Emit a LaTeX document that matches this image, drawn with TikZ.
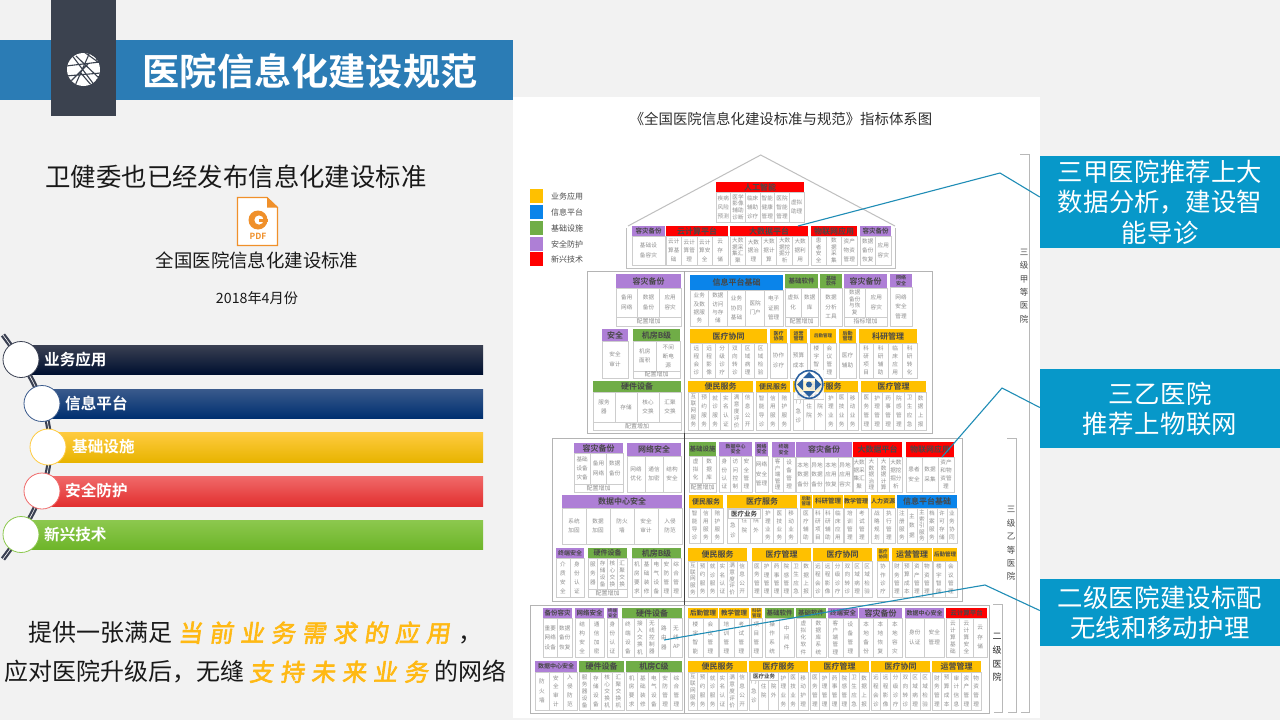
\documentclass[tikz,border=0pt]{standalone}
\usepackage{fontspec}
\setmainfont{Noto Sans CJK SC}[BoldFont={Noto Sans CJK SC Bold}]
\newfontfamily\brushfont[LetterSpace=29,FakeSlant=0.14,FakeBold=2.5]{Noto Sans CJK SC}
\XeTeXlinebreaklocale "zh"
\XeTeXlinebreakskip=0pt plus 0.5pt
\definecolor{pageb}{HTML}{F2F2F2}
\definecolor{barblue}{HTML}{2B7CB5}
\definecolor{darkb}{HTML}{3B424F}
\definecolor{callb}{HTML}{0798C9}
\definecolor{linkb}{HTML}{1F8DB6}
\definecolor{pur}{HTML}{AE7FD6}
\definecolor{org}{HTML}{FFC000}
\definecolor{blu}{HTML}{0A84EA}
\definecolor{grn}{HTML}{70AD47}
\definecolor{rdd}{HTML}{FF0000}
\definecolor{cellline}{HTML}{CDCDCD}
\definecolor{celltxt}{HTML}{8E8E8E}
\definecolor{outer}{HTML}{B4B4B4}
\definecolor{pdfo}{HTML}{F0902A}
\definecolor{brushc}{HTML}{FFB914}
\definecolor{navb}{HTML}{2A5F9E}
\tikzset{
  hd/.style={draw=none,inner sep=0pt,align=center,text=black!72},
  cellbox/.style={draw=cellline,fill=white,line width=0.7pt,inner sep=0pt,align=center,text=celltxt},
  footbox/.style={draw=cellline,fill=white,line width=0.7pt,inner sep=0pt,align=center,text=celltxt,
    font=\fontsize{6}{7}\selectfont},
  outerbox/.style={draw=outer,line width=1pt,fill=white},
  callout/.style={fill=callb,text=white,inner sep=0pt,align=center,text width=240pt,
    font=\fontsize{25.4}{30.3}\selectfont},
  linkline/.style={draw=linkb,line width=1.1pt},
  bracket/.style={draw=black!28,line width=1pt},
  vlabel/.style={inner sep=0pt,align=center,text=black!72,font=\fontsize{8.5}{13.4}\selectfont},
  barlabel/.style={anchor=west,inner sep=0pt,text=white,font=\fontsize{15.6}{17}\selectfont\bfseries},
  listcirc/.style={circle,fill=white,line width=0.8pt,minimum size=36pt,inner sep=0pt},
  legendsq/.style={minimum size=13.5pt,inner sep=0pt},
  legendtx/.style={anchor=west,inner sep=0pt,text=black!70,font=\fontsize{8}{9}\selectfont},
}
\newcount\blkn
\newcount\celln
\newcount\lenc
\def\mloop#1{\ifx#1\relax\else\advance\lenc by 1 \expandafter\mloop\fi}
\def\blk(#1,#2,#3,#4,#5)[#6,#7,#8]#9{%
  \global\advance\blkn by 1
  \pgfmathsetmacro\bx{#1}%
  \pgfmathsetmacro\bw{#2-#1}%
  \pgfmathsetmacro\bh{#4-#3}%
  \pgfmathsetmacro\bcx{(#1+#2)/2}%
  \pgfmathsetmacro\bcy{(#3+#4)/2}%
  \pgfmathsetmacro\ch{#5-#4}%
  \pgfmathsetmacro\ccy{(#4+#5)/2}%
  \pgfmathsetmacro\tl{#7*1.12}%
  \def\forcech{#8}%
  \node[hd,fill=#6,minimum width=\bw pt,minimum height=\bh pt,
        font=\fontsize{#7}{\tl}\selectfont\bfseries] (h\the\blkn) at (\bcx,\bcy) {#9};
  \blkitems}
\def\blkitems#1{%
  \global\celln=0
  \foreach \itm in {#1}{\global\advance\celln by 1}%
  \pgfmathsetmacro\cw{\bw/\the\celln}%
  \pgfmathsetmacro\chars{\forcech>0?\forcech:(\cw>=30?4:(\cw>=16?2:1))}%
  \foreach \itm [count=\ci] in {#1}{%
    \pgfmathsetmacro\cx{\bx+(\ci-0.5)*\cw}%
    \lenc=0 \expandafter\mloop\itm\relax
    \pgfmathsetmacro\maxc{max(1,floor((\cw-0.5)/5.6))}%
    \pgfmathsetmacro\maxl{max(1,floor((\ch-2)/6.6))}%
    \pgfmathsetmacro\need{ceil(\the\lenc/\maxl)}%
    \pgfmathsetmacro\cpl{min(\maxc,max(\chars,\need))}%
    \pgfmathsetmacro\lns{ceil(\the\lenc/\cpl)}%
    \pgfmathsetmacro\lead{max(6.2,min(9.5,(\ch-3)/\lns))}%
    \pgfmathsetmacro\tw{\cpl*5.6+0.4}%
    \node[cellbox,minimum width=\cw pt,minimum height=\ch pt,text width=\tw pt,
          font=\fontsize{5.6}{\lead}\selectfont]
      (c\the\blkn-\ci) at (\cx,\ccy) {\itm};
  }}
\def\ft(#1,#2,#3,#4)#5{%
  \global\advance\blkn by 1
  \pgfmathsetmacro\fw{#2-#1}%
  \pgfmathsetmacro\fh{#4-#3}%
  \pgfmathsetmacro\fcx{(#1+#2)/2}%
  \pgfmathsetmacro\fcy{(#3+#4)/2}%
  \node[footbox,minimum width=\fw pt,minimum height=\fh pt] (f\the\blkn) at (\fcx,\fcy) {#5};}
\begin{document}
\begin{tikzpicture}[x=1pt,y=-1pt]
\useasboundingbox (0,0) rectangle (1280,720);
\fill[pageb] (0,0) rectangle (1280,720);
% ---------- white panel
\fill[white] (513,97) rectangle (1040,718);
% ---------- header
\fill[barblue] (0,40) rectangle (513,100);
\fill[darkb] (51,0) rectangle (116,116);
\begin{scope}
  \clip (83.5,69.5) circle (16.5);
  \fill[white] (83.5,69.5) circle (16.5);
  \draw[darkb,line width=1.1pt]
    (66,66) -- (100,62) (71,54) -- (95,86) (90,52) -- (74,88)
    (66,76) -- (101,73) (76,56) -- (99,78) (84,52) -- (98,62)
    (70,82) -- (88,64) (80,72) -- (92,86);
\end{scope}
\node[inner sep=0pt,text=white,font=\fontsize{37.2}{40}\selectfont\bfseries] (title) at (310,71) {医院信息化建设规范};
% ---------- left texts
\node[inner sep=0pt,text=black!90,font=\fontsize{25.4}{28}\selectfont] (t1) at (236,177) {卫健委也已经发布信息化建设标准};
\draw[pdfo,fill=white,line width=1.2pt] (237.5,197.5) -- (267,197.5) -- (277.5,207.5) -- (277.5,245.5) -- (237.5,245.5) -- cycle;
\fill[pdfo] (267,197) -- (278,207.5) -- (267,207.5) -- cycle;
\fill[pdfo] (258,220) circle (9.5);
\fill[white] (259,220) circle (4.6);
\fill[pdfo] (259,219) rectangle (268,222);
\node[inner sep=0pt,text=pdfo,font=\fontsize{8.5}{9}\selectfont\bfseries] (pdf) at (258,236) {PDF};
\node[inner sep=0pt,text=black!90,font=\fontsize{18.4}{20}\selectfont] (t2) at (257,260) {全国医院信息化建设标准};
\node[inner sep=0pt,text=black!90,font=\fontsize{14.2}{16}\selectfont] (t3) at (257,298) {2018年4月份};
% ---------- list
\definecolor{g1a}{HTML}{3A4052}\definecolor{g1b}{HTML}{0A1430}\definecolor{g1c}{HTML}{001030}
\definecolor{g2a}{HTML}{3A5A8C}\definecolor{g2b}{HTML}{00357A}\definecolor{g2c}{HTML}{003070}
\definecolor{g3a}{HTML}{FFCB40}\definecolor{g3b}{HTML}{FFC000}\definecolor{g3c}{HTML}{E8B400}
\definecolor{g4a}{HTML}{F06A6A}\definecolor{g4b}{HTML}{EF3B3B}\definecolor{g4c}{HTML}{E23030}
\definecolor{g5a}{HTML}{8CC84E}\definecolor{g5b}{HTML}{7DC13B}\definecolor{g5c}{HTML}{6EB52A}
\shade[top color=g1a,middle color=g1b,bottom color=g1c] (21,345) rectangle (483,374);
\shade[top color=g2a,middle color=g2b,bottom color=g2c] (42,389) rectangle (483,418);
\shade[top color=g3a,middle color=g3b,bottom color=g3c] (48,432) rectangle (483,462);
\shade[top color=g4a,middle color=g4b,bottom color=g4c] (42,476) rectangle (483,506);
\shade[top color=g5a,middle color=g5b,bottom color=g5c] (21,520) rectangle (483,549);
\draw[g1a,line width=2.2pt,double=white,double distance=0.6pt]
  (3,335) .. controls (33,375) and (50,410) .. (50,447) .. controls (50,484) and (33,519) .. (3,559);
\node[listcirc,draw=g1a] (l1) at (21,359.5) {};
\node[listcirc,draw=g2a] (l2) at (42,403.5) {};
\node[listcirc,draw=g3a] (l3) at (48,447) {};
\node[listcirc,draw=g4a] (l4) at (42,491) {};
\node[listcirc,draw=g5a] (l5) at (21,534.5) {};
\node[barlabel] (b1) at (44,359.5) {业务应用};
\node[barlabel] (b2) at (65,403.5) {信息平台};
\node[barlabel] (b3) at (72,447) {基础设施};
\node[barlabel] (b4) at (65,491) {安全防护};
\node[barlabel] (b5) at (44,534.5) {新兴技术};
% ---------- bottom text
\node[anchor=west,inner sep=0pt,text=black!90,font=\fontsize{24}{26}\selectfont] (q1) at (28,633)
  {提供一张满足\hspace{6pt}{\brushfont\color{brushc}当前业务需求的应用}\hspace{9pt}，};
\node[anchor=west,inner sep=0pt,text=black!90,font=\fontsize{24}{26}\selectfont] (q2) at (4,672)
  {应对医院升级后，无缝\hspace{5pt}{\brushfont\color{brushc}支持未来业务}\hspace{7pt}的网络};
% ---------- panel title + legend
\node[inner sep=0pt,text=black!82,font=\fontsize{14.4}{16}\selectfont] (ptitle) at (781,119) {《全国医院信息化建设标准与规范》指标体系图};
\foreach \yy/\cc/\tx [count=\li] in {196/org/业务应用,212/blu/信息平台,228/grn/基础设施,244/pur/安全防护,259/rdd/新兴技术}{
  \node[legendsq,fill=\cc] (lg\li) at (536.5,\yy) {};
  \node[legendtx] (lt\li) at (551,\yy) {\tx};
}
% ---------- roof tier
\draw[draw=black!25,line width=1pt] (626,228) -- (626,268) -- (895,268) -- (895,228);
\draw[draw=black!25,line width=1pt] (628,226) -- (760.7,155) -- (895,226);
\blk(716,804,182,192,222)[rdd,8,2]{人工智能}{疾病风险预测,医学影像辅助诊断,临床辅助诊疗,智能健康管理,医院智能管理,虚拟助理}
\blk(632,665,226,236,265)[pur,6.5,4]{容灾备份}{基础设备容灾}
\blk(666,728,226,236,265)[rdd,8,0]{云计算平台}{云计算基础,云计算管理,云计算安全,云存储}
\blk(730,808,226,236,265)[rdd,8,0]{大数据平台}{大数据采集汇聚,大数据治理,大数据计算,大数据挖掘分析,大数据利用}
\blk(811,857,226,236,265)[rdd,8,0]{物联网应用}{患者安全,数据采集,资产物资管理}
\blk(860,891,226,236,265)[pur,6.5,2]{容灾备份}{数据备份恢复,应用容灾}
% ---------- tier 3a
\draw[outerbox] (587,271) rectangle (932,433);
\draw[draw=black!35,line width=0.7pt] (684.5,271) -- (684.5,433);
\blk(616,681,274,288,317)[pur,8,0]{容灾备份}{备用网络,数据备份,应用容灾}
\ft(616,681,317,326){配置增加}
\blk(602,628,329,341,378)[pur,8,0]{安全}{安全审计}
\blk(633,680,329,341,371)[grn,8,0]{机房B级}{机房面积,不间断电源}
\ft(633,680,371,378){配置增加}
\blk(593,681,381,392,422)[grn,8,0]{硬件设备}{服务器,存储,核心交换,汇聚交换}
\ft(593,681,422,430){配置增加}
\blk(690,783,275,290,326)[blu,8,0]{信息平台基础}{业务及数据服务,数据访问与存储,业务协同基础,医院门户,电子证照管理}
\blk(785,818,274,288,317)[grn,6.5,0]{基础软件}{虚拟化,数据库}
\ft(785,818,317,326){配置增加}
\blk(820,842,274,288,326)[grn,5,2]{基础\\软件}{数据分析工具}
\blk(844,887,274,288,317)[pur,8,0]{容灾备份}{数据备份与恢复,应用容灾}
\ft(844,887,317,326){指标增加}
\blk(890,912,274,287,326)[pur,5,2]{网络\\安全}{网络安全管理}
\blk(690,767,329,343,378)[org,8,0]{医疗协同}{远程会诊,远程影像,分级诊疗,双向转诊,区域病理,区域检验}
\blk(770,787,329,343,378)[org,5,0]{医疗\\协同}{协作诊疗}
\blk(790,807,329,343,378)[org,5,0]{运营\\管理}{预算成本}
\blk(810,836,329,343,378)[org,4.5,0]{后勤管理}{楼宇智能,会议管理}
\blk(839,856,329,343,378)[org,5,0]{后勤\\管理}{医疗辅助}
\blk(859,917,329,343,378)[org,8,0]{科研管理}{科研项目,科研辅助,临床应用,科研转化}
\blk(688,753,381,392,430)[org,8,0]{便民服务}{互联网服务,预约服务,就诊服务,实名认证,满意度评价,信息公开}
\blk(756,790,381,392,430)[org,7,0]{便民服务}{智能导诊,信用服务,陪护服务}
\blk(793,858,381,392,430)[org,8,0]{医疗服务}{门急诊,住院,院外,护理业务,医技业务,移动业务}
\blk(861,926,381,392,430)[org,8,0]{医疗管理}{医务管理,护理管理,药事管理,院感管理,卫生应急,数据上报}
% ---------- tier 3b
\draw[outerbox] (552,438) rectangle (962,601);
\draw[draw=black!75,line width=0.7pt] (684.5,433) -- (684.5,605);
\blk(574,623,443,453,484)[pur,8,0]{容灾备份}{基础设备灾备,备用网络,数据备份}
\ft(574,623,484,492){配置增加}
\blk(627,681,443,456,492)[pur,8,0]{网络安全}{网络优化,通信加密,结构安全}
\blk(562,682,495,508,544)[pur,8,0]{数据中心安全}{系统加固,数据加固,防火墙,安全审计,入侵防范}
\blk(556,584,548,558,597)[pur,6,0]{终端安全}{介质安全,身份认证}
\blk(588,627,548,558,589)[grn,7,0]{硬件设备}{服务器,存储设备,核心交换,汇聚交换}
\ft(588,627,589,597){配置增加}
\blk(632,681,548,558,597)[grn,8,0]{机房B级}{机房要求,基础装修,电气设备,安防管理,综合管理}
\blk(689,716,442,456,483)[grn,6.5,0]{基础设施}{虚拟化,数据库}
\ft(689,716,483,492){配置增加}
\blk(719,752,442,456,492)[pur,5,0]{数据中心\\安全}{身份认证,访问控制,安全管理}
\blk(755,768,442,456,492)[pur,5,0]{网络\\安全}{网络安全管理}
\blk(772,795,442,457,492)[pur,5,0]{终端\\安全}{客户端管理,设备管理}
\blk(796,852,442,457,492)[pur,8,0]{容灾备份}{本地数据备份,异地数据备份,本地应用恢复,异地应用容灾}
\blk(853,902,442,457,492)[rdd,8,0]{大数据平台}{大数据采集汇聚,大数据治理,大数据计算,大数据挖掘分析}
\blk(906,954,442,457,492)[rdd,8,0]{物联网应用}{患者安全,数据采集,资产和物资管理}
\blk(689,723,495,508,543)[org,7,0]{便民服务}{智能导诊,信用服务,陪护服务}
\blk(727,797,495,508,543)[org,8,0]{医疗服务}{门急诊,住院,院外,护理业务,医技业务,移动业务}
\blk(800,812,495,508,543)[org,4.5,0]{后勤\\管理}{医疗辅助}
\blk(813,843,495,508,543)[org,6.5,0]{科研管理}{科研项目,科研辅助,临床应用}
\blk(844,868,495,508,543)[org,6,0]{教学管理}{培训管理,考试管理}
\blk(871,895,495,508,543)[org,6,0]{人力资源}{战略规划,执行管理}
\blk(897,957,495,508,543)[blu,8,0]{信息平台基础}{注册服务,主数据,主索引服务,档案服务,许可存储,业务协同}
\blk(688,747,548,561,597)[org,8,0]{便民服务}{互联网服务,预约服务,就诊服务,实名认证,满意度评价,信息公开}
\blk(752,811,548,561,597)[org,8,0]{医疗管理}{医务管理,护理管理,药事管理,院感管理,卫生应急,数据上报}
\blk(813,872,548,561,597)[org,8,0]{医疗协同}{远程会诊,远程影像,分级诊疗,双向转诊,区域病理,区域检验}
\blk(877,889,548,561,597)[org,4.5,0]{医疗\\协同}{协作诊疗}
\blk(892,932,548,561,597)[org,8,0]{运营管理}{财务管理,预算成本,资产管理,物资管理}
\blk(933,957,548,561,597)[org,5.5,0]{后勤管理}{楼宇智能,会议管理}
% ---------- tier 2
\draw[outerbox] (530,605) rectangle (989,713);
\draw[draw=black!30,line width=0.7pt] (684.5,605) -- (684.5,713);
\blk(543,572,608,618,657)[pur,6.5,0]{备份容灾}{重要网络设备,数据备份恢复}
\blk(575,604,608,618,657)[pur,6.5,0]{网络安全}{结构安全,通信加密}
\blk(607,618,608,618,657)[pur,4.5,0]{终端\\安全}{身份认证}
\blk(622,682,608,618,657)[grn,8,0]{硬件设备}{终端设备,接入交换机,无线控制器,路由器,无线AP}
\blk(688,718,608,618,657)[org,6.5,0]{后勤管理}{楼宇智能,会议管理}
\blk(719,749,608,618,657)[org,6.5,0]{教学管理}{培训管理,考试管理}
\blk(751,762,608,618,657)[org,4.5,0]{科研\\管理}{项目管理}
\blk(765,794,608,618,657)[grn,6.5,0]{基础软件}{操作系统,中间件}
\blk(796,826,608,618,657)[grn,6.5,0]{基础软件}{虚拟化软件,数据库系统}
\blk(828,858,608,618,657)[pur,6.5,0]{终端安全}{客户端管理,设备管理}
\blk(859,902,608,618,657)[pur,8,0]{容灾备份}{本地备份,本地恢复,本地容灾}
\blk(905,944,608,618,657)[pur,6,0]{数据中心安全}{身份认证,安全管理}
\blk(946,987,608,618,657)[rdd,6.5,0]{云计算平台}{云计算基础,云计算安全,云存储}
\blk(535,577,661,672,710)[pur,6,0]{数据中心安全}{防火墙,安全审计,入侵防范}
\blk(579,624,661,672,710)[grn,8,0]{硬件设备}{服务器设备,存储设备,核心交换机,汇聚交换机}
\blk(626,682,661,672,710)[grn,8,0]{机房C级}{机房要求,基础装修,电气设备,安防管理,综合管理}
\blk(688,747,661,672,710)[org,8,0]{便民服务}{互联网服务,预约服务,就诊服务,实名认证,满意度评价,信息公开}
\blk(749,808,661,672,710)[org,8,0]{医疗服务}{门急诊,住院,院外,护理业务,医技业务,移动护理}
\blk(810,869,661,672,710)[org,8,0]{医疗管理}{医务管理,护理管理,药事管理,院感管理,卫生应急,数据上报}
\blk(871,930,661,672,710)[org,8,0]{医疗协同}{远程会诊,远程影像,分级诊疗,双向转诊,区域病理,区域检验}
\blk(932,981,661,672,710)[org,8,0]{运营管理}{财务管理,预算成本,审计信息,资产管理,物资管理}
% 医疗业务 sub-headers
\node[cellbox,text=black!75,minimum width=30pt,minimum height=7pt,font=\fontsize{5.5}{6}\selectfont\bfseries] (sub1) at (808,396) {医疗业务};
\node[cellbox,text=black!75,minimum width=32pt,minimum height=9pt,font=\fontsize{6.5}{7}\selectfont\bfseries] (sub2) at (744,514) {医疗业务};
\node[cellbox,text=black!75,minimum width=28pt,minimum height=8pt,font=\fontsize{5.5}{6}\selectfont\bfseries] (sub3) at (764,676) {医疗业务};
% ---------- nav icon
\fill[white,opacity=.8] (795,370) rectangle (824,399);
\draw[navb,line width=1.6pt] (809,384.5) circle (13.8);
\fill[navb] (809,384.5) circle (3);
\fill[navb] (803,378) -- (815,378) -- (809,372) -- cycle;
\fill[navb] (803,391) -- (815,391) -- (809,397) -- cycle;
\fill[navb] (803,378.5) -- (803,390.5) -- (797,384.5) -- cycle;
\fill[navb] (815,378.5) -- (815,390.5) -- (821,384.5) -- cycle;
% ---------- brackets + labels
\draw[bracket] (1020,154) -- (1029,154) -- (1029,712) -- (1021,712);
\draw[bracket] (1007,438) -- (1016.5,438) -- (1016.5,712) -- (1008,712);
\draw[bracket] (993,604) -- (1002,604) -- (1002,712) -- (994,712);
\node[vlabel,fill=white] (v1) at (1024,286) {三\\级\\甲\\等\\医\\院};
\node[vlabel,fill=white] (v2) at (1011,543.5) {三\\级\\乙\\等\\医\\院};
\node[vlabel,fill=white,text=black!85,font=\fontsize{9}{13.7}\selectfont] (v3) at (997,657.5) {二\\级\\医\\院};
% ---------- callouts
\node[callout,minimum height=92pt] (c1) at (1160,202) {三甲医院推荐上大\\数据分析，建设智\\能导诊};
\node[callout,minimum height=79pt] (c2) at (1160,408.5) {三乙医院\\推荐上物联网};
\node[callout,minimum height=67pt] (c3) at (1160,612.5) {二级医院建设标配\\无线和移动护理};
\coordinate (e1) at (798,226);
\coordinate (k1) at (1000,173);
\coordinate (e2) at (942,457);
\coordinate (k2) at (1002,388);
\coordinate (e3) at (664,640);
\coordinate (k3) at (985,585);
\draw[linkline] (e1) -- (k1) -- ([yshift=5pt]c1.west);
\draw[linkline] (e2) -- (k2) -- ([yshift=1pt]c2.west);
\draw[linkline] (e3) -- (k3) -- ([yshift=2pt]c3.west);
\end{tikzpicture}
\end{document}
